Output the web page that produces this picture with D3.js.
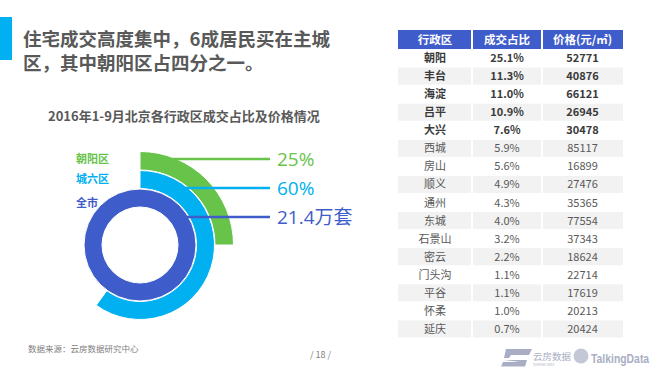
<!DOCTYPE html>
<html>
<head>
<meta charset="utf-8">
<script src="https://cdn.jsdelivr.net/npm/d3@7"></script>
<style>
  body { margin: 0; background: #fff; }
  svg { display: block; font-family: "Noto Sans CJK SC", "Noto Sans", sans-serif; }
</style>
</head>
<body>
<svg id="chart" width="668" height="375"></svg>
<script>
// ring data
var ringNames = ["朝阳区", "城六区", "全市"];
var ringShares = [25, 60, 100];
var ringTexts = ["25%", "60%", "21.4万套"];
var ringColors = ["#68c34b", "#00b0f0", "#3f5dca"];

// table data
var tableHead = ["行政区", "成交占比", "价格(元/㎡)"];
var districts = ["朝阳", "丰台", "海淀", "吕平", "大兴", "西城", "房山", "顺义", "通州", "东城", "石景山", "密云", "门头沟", "平谷", "怀柔", "延庆"];
var shares = ["25.1%", "11.3%", "11.0%", "10.9%", "7.6%", "5.9%", "5.6%", "4.9%", "4.3%", "4.0%", "3.2%", "2.2%", "1.1%", "1.1%", "1.0%", "0.7%"];
var prices = [52771, 40876, 66121, 26945, 30478, 85117, 16899, 27476, 35365, 77554, 37343, 18624, 22714, 17619, 20213, 20424];
var boldRows = 5;

var svg = d3.select("#chart");

// title
svg.append("rect").attr("x", 0).attr("y", 17).attr("width", 12).attr("height", 43).attr("fill", "#00b0f0");
var titleLines = ["住宅成交高度集中，6成居民买在主城", "区，其中朝阳区占四分之一。"];
svg.selectAll("text.title")
  .data(titleLines)
  .join("text")
  .attr("class", "title")
  .attr("x", 23).attr("y", function(d, i) { return 46 + i * 23.5; })
  .attr("fill", "#595959").attr("font-size", 18.5).attr("font-weight", "bold")
  .text(function(d) { return d; });

svg.append("text")
  .attr("x", 48).attr("y", 121)
  .attr("fill", "#595959").attr("font-size", 13).attr("font-weight", "bold")
  .text("2016年1-9月北京各行政区成交占比及价格情况");

// rings
var cx = 140, cy = 245;
var angle = d3.scaleLinear().domain([0, 100]).range([0, 2 * Math.PI]);
var radii = [[75, 93.5], [56.5, 74.5], [38, 56]];
var labelY = d3.scalePoint().domain(ringNames).range([159, 217]);

var g = svg.append("g").attr("transform", "translate(" + cx + "," + cy + ")");

var arc = d3.arc();
g.selectAll("path.ring")
  .data(ringShares)
  .join("path")
  .attr("class", "ring")
  .attr("d", function(d, i) {
    return arc({innerRadius: radii[i][0], outerRadius: radii[i][1], startAngle: 0, endAngle: angle(d)});
  })
  .attr("fill", function(d, i) { return ringColors[i]; })
  .attr("stroke", "#fff").attr("stroke-width", 1);

// leader lines
ringNames.forEach(function(name, i) {
  var y = labelY(name);
  var dy = y - cy;
  var r = radii[i][1];
  var x0 = cx + Math.sqrt(Math.max(0, r * r - dy * dy)) - 4;
  svg.append("line")
    .attr("x1", x0).attr("x2", 270)
    .attr("y1", y).attr("y2", y)
    .attr("stroke", ringColors[i]).attr("stroke-width", 2.5);
  svg.append("text")
    .attr("x", 277).attr("y", y + 6.5)
    .attr("fill", ringColors[i]).attr("font-size", 19)
    .attr("font-family", "'Open Sans', 'Noto Sans CJK SC', sans-serif")
    .text(ringTexts[i]);
});

// ring labels
var nameY = [159, 179, 203];
svg.selectAll("text.rname")
  .data(ringNames)
  .join("text")
  .attr("class", "rname")
  .attr("x", 76).attr("y", function(d, i) { return nameY[i] + 4; })
  .attr("fill", function(d, i) { return ringColors[i]; })
  .attr("font-size", 11).attr("font-weight", "bold")
  .text(function(d) { return d; });

// table
var colEdges = [398, 472, 542, 623];
var rowY = d3.scaleBand().domain(districts).range([49, 338]);
var headTop = 30, headH = 19;
var tg = svg.append("g");

tg.selectAll("rect.head")
  .data(tableHead)
  .join("rect")
  .attr("class", "head")
  .attr("x", function(d, i) { return colEdges[i] + (i ? 1 : 0); })
  .attr("y", headTop)
  .attr("width", function(d, i) { return colEdges[i + 1] - colEdges[i] - (i ? 1 : 0) - (i < 2 ? 1 : 0); })
  .attr("height", headH)
  .attr("fill", "#3f5dca");

tg.selectAll("text.head")
  .data(tableHead)
  .join("text")
  .attr("class", "head")
  .attr("x", function(d, i) { return (colEdges[i] + colEdges[i + 1]) / 2; })
  .attr("y", headTop + headH / 2 + 4)
  .attr("text-anchor", "middle")
  .attr("fill", "#fff").attr("font-size", 11.5).attr("font-weight", "bold")
  .text(function(d) { return d; });

var rows = tg.selectAll("g.row")
  .data(districts)
  .join("g")
  .attr("class", "row")
  .attr("transform", function(d) { return "translate(0," + rowY(d) + ")"; });

rows.filter(function(d, i) { return i % 2 === 1; })
  .selectAll("rect")
  .data([0, 1, 2])
  .join("rect")
  .attr("x", function(c) { return colEdges[c] + (c ? 1 : 0); })
  .attr("y", 0.5)
  .attr("width", function(c) { return colEdges[c + 1] - colEdges[c] - (c ? 1 : 0) - (c < 2 ? 1 : 0); })
  .attr("height", rowY.bandwidth() - 1)
  .attr("fill", "#f2f2f2");

rows.each(function(d, i) {
  var cells = [d, shares[i], prices[i]];
  d3.select(this).selectAll("text")
    .data(cells)
    .join("text")
    .attr("x", function(c, k) { return (colEdges[k] + colEdges[k + 1]) / 2; })
    .attr("y", rowY.bandwidth() / 2 + 4)
    .attr("text-anchor", "middle")
    .attr("font-size", 11)
    .attr("font-weight", i < boldRows ? "bold" : "normal")
    .attr("fill", i < boldRows ? "#3a3a3a" : "#595959")
    .text(function(c) { return c; });
});

// footer
svg.append("text")
  .attr("x", 28).attr("y", 352)
  .attr("fill", "#808080").attr("font-size", 8.5)
  .text("数据来源：云房数据研究中心");

svg.append("text")
  .attr("x", 310).attr("y", 358)
  .attr("fill", "#808080").attr("font-size", 9)
  .text("/  18  /");

// logos
var logo = svg.append("g").attr("fill", "#a9aec4");
logo.append("path").attr("d", "M506,349 L532,349 L529,355 L511,355 L509,358 L504,358 Z");
logo.append("path").attr("d", "M504,360 L527,360 L525,366.5 L501,366.5 L503,362 L520,362 Z");
logo.append("text").attr("x", 533).attr("y", 360).attr("font-size", 9.5).text("云房数据");
logo.append("text").attr("x", 533).attr("y", 366).attr("font-size", 3).text("YUNFANG DATA");
logo.append("circle").attr("cx", 581).attr("cy", 356).attr("r", 7.5).attr("fill", "#c4c8d6");
logo.append("g")
  .attr("transform", "translate(591,363) scale(0.8,1)")
  .append("text")
  .attr("font-size", 13).attr("font-weight", "bold")
  .attr("font-family", "'Liberation Sans', sans-serif")
  .text("TalkingData");
</script>
</body>
</html>
